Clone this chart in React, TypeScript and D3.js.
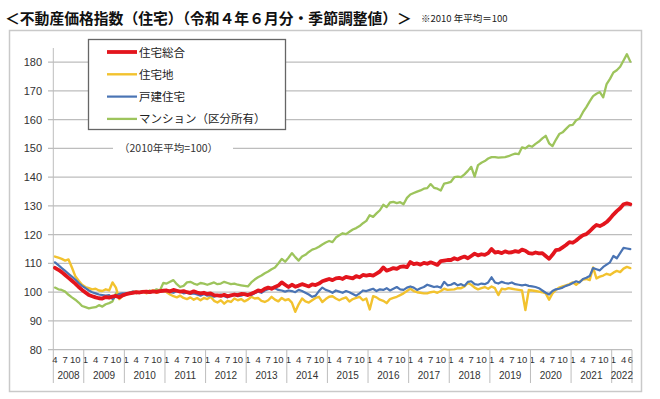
import React from 'react';
import * as d3 from 'd3';

// constants
const width = 660;
const height = 399;
const plot = { left: 53.3, right: 632, top: 48, bottom: 349.7 };

// categories: monthly, Apr 2008 .. Jun 2022
const months = d3.timeMonth.range(new Date(2008, 3, 1), new Date(2022, 6, 1));
const yTicks = [80, 90, 100, 110, 120, 130, 140, 150, 160, 170, 180];
const labelMonths = [1, 4, 7, 10];

// 住宅総合
const total = [
  108.5, 107.8, 107.0, 106.0, 105.0, 104.0, 103.0, 101.8, 100.8,
  99.9, 99.0, 98.6, 98.2, 97.9, 97.8, 98.3, 98.1, 98.5, 98.7, 98.2, 98.9,
  99.3, 99.6, 99.8, 100.0, 99.9, 100.1, 100.2, 100.0, 100.3, 100.1, 100.4, 100.5,
  100.6, 100.3, 100.8, 100.5, 100.2, 100.4, 100.0, 99.8, 100.3, 99.9, 99.6, 99.8,
  99.4, 99.6, 99.0, 98.9, 98.7, 99.1, 98.6, 98.9, 99.2, 99.0, 99.4, 99.3,
  99.0, 99.5, 100.0, 100.6, 100.4, 101.2, 101.6, 101.2, 101.8, 102.3, 103.4, 102.6,
  101.8, 102.6, 101.9, 102.3, 102.8, 102.4, 102.0, 102.7, 102.5, 103.0, 103.8, 104.2,
  104.6, 104.2, 104.8, 105.0, 104.6, 105.3, 105.1, 104.8, 105.6, 105.2, 106.0, 105.8,
  106.0, 105.8, 106.5, 107.2, 108.6, 107.5, 107.9, 108.4, 108.1, 108.8, 109.0, 108.7,
  110.5, 109.8, 110.0, 109.6, 110.2, 109.9, 110.4, 110.0, 109.5, 110.8, 111.0, 111.2,
  111.2, 111.8, 111.4, 112.0, 112.4, 111.8, 112.6, 113.4, 112.8, 113.2, 113.0, 113.6,
  115.0, 113.8, 114.0, 113.6, 114.2, 113.8, 113.9, 114.3, 114.0, 114.8, 114.4, 113.6,
  113.4, 113.8, 113.5, 113.6, 112.6, 111.6, 113.0, 114.6, 114.8, 115.6, 116.4, 117.4,
  117.2, 118.0, 119.0, 119.8, 120.2, 121.2, 122.4, 123.4, 123.0, 123.6, 124.4, 125.6,
  127.0, 128.2, 129.2, 130.6, 130.9, 130.6,
];

// 住宅地
const land = [
  112.4, 112.0, 111.6, 111.0, 111.4, 108.6, 105.6, 104.0, 102.6,
  101.8, 101.4, 101.0, 101.2, 100.6, 100.4, 101.0, 100.6, 103.4, 101.6, 97.6, 98.8,
  99.2, 99.6, 100.0, 100.2, 99.8, 100.4, 99.6, 100.2, 100.6, 99.8, 100.2, 100.6,
  100.0, 99.2, 98.6, 98.2, 98.8, 98.0, 97.6, 98.2, 97.4, 98.0, 97.2, 98.0,
  97.6, 98.4, 97.0, 96.4, 97.2, 96.0, 97.0, 96.6, 97.8, 97.2, 97.6, 96.8,
  97.4, 98.4, 97.8, 98.0, 97.0, 96.6, 97.2, 98.4, 97.4, 96.8, 98.0, 97.2,
  97.6, 96.4, 93.2, 95.8, 97.8, 96.8, 96.4, 97.2, 98.0, 98.4, 96.6, 97.6,
  98.4, 98.6, 97.8, 97.2, 97.8, 98.2, 96.8, 97.6, 98.0, 98.4, 97.2, 97.8,
  94.0, 98.6, 98.2, 97.4, 97.0, 96.2, 97.6, 98.0, 98.4, 99.0, 99.6, 100.4,
  101.2, 100.4, 100.0, 99.8, 99.6, 99.6, 100.0, 100.2, 99.8, 100.4, 101.2, 100.8,
  100.9, 101.0, 101.4, 101.4, 102.0, 103.2, 102.6, 101.6, 101.0, 101.4, 101.8, 101.2,
  102.0, 101.4, 99.0, 101.2, 101.0, 101.4, 101.2, 101.0, 100.8, 100.6, 93.8, 100.8,
  100.6, 100.4, 100.2, 100.0, 99.6, 97.4, 99.6, 100.8, 101.6, 102.0, 102.4, 102.8,
  103.4, 102.6, 103.6, 104.4, 104.6, 104.2, 108.6, 104.8, 105.4, 105.8, 106.4, 106.0,
  106.8, 107.4, 107.0, 108.2, 108.8, 108.4,
];

// 戸建住宅
const house = [
  110.4, 109.4, 108.4, 107.4, 106.4, 105.4, 104.4, 103.2, 102.2,
  101.4, 100.6, 100.0, 99.6, 99.2, 99.0, 98.8, 99.0, 97.6, 98.6, 99.4, 99.6,
  99.6, 99.8, 100.2, 100.0, 99.8, 100.4, 100.0, 99.8, 100.2, 100.4, 100.2, 100.6,
  100.4, 100.0, 99.8, 100.4, 100.2, 99.6, 99.8, 99.4, 99.6, 99.2, 98.8, 99.4,
  98.8, 99.0, 98.4, 98.8, 99.2, 98.6, 98.2, 98.8, 99.0, 98.6, 98.8, 99.2,
  99.2, 99.0, 99.6, 100.2, 99.8, 100.6, 101.0, 101.6, 101.4, 100.8, 100.6, 100.2,
  100.6, 100.4, 100.0, 100.8, 100.4, 99.8, 99.2, 98.4, 98.8, 100.4, 101.6, 100.8,
  100.4, 99.8, 100.6, 100.2, 99.8, 100.4, 100.0, 99.4, 98.8, 99.6, 100.6, 100.4,
  100.8, 101.2, 100.4, 101.0, 100.8, 101.4, 100.6, 101.2, 101.8, 101.0, 100.8, 101.6,
  102.0, 101.6, 100.8, 101.4, 101.8, 102.6, 102.2, 101.8, 102.0, 101.6, 103.6, 102.4,
  102.6, 103.2, 102.4, 102.8, 102.2, 103.6, 103.8, 102.8, 102.6, 103.0, 102.8, 103.4,
  105.2, 103.4, 103.0, 103.6, 103.2, 103.0, 103.4, 102.8, 102.6, 102.4, 102.6, 102.2,
  102.0, 101.8, 101.4, 100.6, 99.8, 99.2, 100.4, 101.0, 101.2, 101.6, 102.2, 102.6,
  103.2, 103.8, 103.4, 104.6, 105.0, 105.6, 108.4, 108.0, 107.6, 108.8, 109.6, 110.4,
  112.6, 111.8, 113.6, 115.4, 115.2, 115.0,
];

// マンション（区分所有）
const condo = [
  101.6, 101.0, 100.8, 100.2, 99.1, 98.2, 97.4, 96.4, 95.2,
  94.8, 94.4, 94.6, 94.8, 95.5, 95.0, 95.8, 96.2, 96.8, 99.6, 98.4, 99.2,
  99.4, 99.8, 100.2, 99.6, 100.0, 100.4, 99.8, 100.6, 100.2, 101.0, 100.6, 103.2,
  103.0, 103.6, 104.2, 102.8, 101.8, 102.2, 103.4, 103.6, 103.0, 102.6, 103.2, 103.0,
  102.6, 103.0, 103.4, 102.8, 103.0, 103.6, 103.2, 102.8, 103.0, 102.6, 102.4, 102.2,
  102.0, 103.4, 104.4, 105.2, 105.8, 106.6, 107.2, 108.0, 108.6, 110.0, 111.6, 110.6,
  112.0, 113.6, 112.2, 111.0, 112.4, 113.0, 114.0, 114.8, 115.2, 115.8, 116.6, 117.3,
  117.8, 117.4, 119.0, 119.8, 120.5, 120.2, 121.0, 121.8, 122.3, 123.0, 124.0, 124.8,
  126.8, 126.2, 127.4, 128.5, 130.4, 129.6, 131.2, 131.4, 131.0, 131.3, 130.6, 132.8,
  134.0, 134.5, 135.0, 135.4, 136.0, 136.2, 137.6, 136.3, 136.0, 135.4, 137.8, 138.0,
  138.4, 140.0, 140.2, 140.0, 141.0, 142.2, 143.6, 140.2, 144.2, 145.0, 145.6, 146.5,
  147.0, 147.0, 146.8, 146.9, 147.0, 147.3, 147.8, 148.2, 148.0, 150.4, 150.0, 151.0,
  150.6, 151.6, 152.4, 153.5, 154.4, 151.8, 150.8, 153.0, 155.0, 155.6, 156.8, 158.0,
  158.2, 159.8, 160.4, 162.6, 164.4, 166.4, 168.2, 169.0, 169.6, 167.8, 172.4, 174.2,
  176.4, 177.2, 178.4, 180.6, 182.8, 180.2,
];

const series = [
  { name: 'マンション（区分所有）', values: condo, color: '#9dc45c', width: 2.3 },
  { name: '住宅地', values: land, color: '#f2c22e', width: 2.4 },
  { name: '戸建住宅', values: house, color: '#4a74b4', width: 2.2 },
  { name: '住宅総合', values: total, color: '#e3151d', width: 3.8 },
];
const legendOrder = ['住宅総合', '住宅地', '戸建住宅', 'マンション（区分所有）'];

const jp = '"Noto Sans CJK JP", "Noto Sans", sans-serif';
const narrow = '"Liberation Sans Narrow", "Arial Narrow", "Liberation Sans", sans-serif';

const App = () => {
  // scales
  const xScale = d3.scaleBand<number>()
    .domain(months.map((d, i) => i))
    .range([plot.left, plot.right])
    .padding(0);
  const yScale = d3.scaleLinear().domain([80, 180]).range([plot.bottom, 62.2]);
  const cx = (i: number) => (xScale(i) as number) + xScale.bandwidth() / 2;

  const line = d3.line<number>()
    .x((d, i) => cx(i))
    .y(d => yScale(d));

  // year groups for the two-level category axis
  const yearGroups = d3.groups(months.map((d, i) => ({ d, i })), e => e.d.getFullYear())
    .map(([year, arr]) => ({ year, first: arr[0].i, last: arr[arr.length - 1].i }));

  const lastIndex = months.length - 1;

  return (
    <svg width={width} height={height} style={{ position: 'absolute', left: 0, top: 0, background: '#fff' }}>
      {/* title */}
      <text x={5} y={24} fontFamily={jp} fontWeight="bold" fontSize={14.8} fill="#111">
        ＜不動産価格指数（住宅）（令和４年６月分・季節調整値）＞
      </text>
      <text x={421} y={22} fontFamily={jp} fontSize={9.5} fill="#222">※2010 年平均＝100</text>

      {/* frame */}
      <rect x={9.5} y={30.5} width={632} height={361} fill="#fff" stroke="#c9c9c9" strokeWidth={1.5} />

      {/* gridlines + y labels */}
      {yTicks.map(t => (
        <g key={t}>
          <line x1={48} x2={plot.right} y1={yScale(t)} y2={yScale(t)} stroke="#bdbdbd" strokeWidth={1.3} />
          <text x={42} y={yScale(t) + 4} textAnchor="end" fontFamily='"Liberation Sans", Arial, sans-serif' fontSize={11} fill="#333">{t}</text>
        </g>
      ))}

      {/* note over 150 gridline */}
      <rect x={113} y={140} width={120} height={16} fill="#fff" />
      <text x={119} y={152} fontFamily={jp} fontSize={10.5} fill="#333">（2010年平均=100）</text>

      {/* y axis line */}
      <line x1={plot.left} x2={plot.left} y1={plot.top} y2={383} stroke="#bdbdbd" strokeWidth={1} />

      {/* month labels */}
      {months.map((d, i) => {
        const m = d.getMonth() + 1;
        if (!labelMonths.includes(m) && i !== lastIndex) return null;
        return (
          <text key={i} x={cx(i)} y={363} textAnchor="middle" fontFamily={narrow} fontSize={9.5} fill="#333">{m}</text>
        );
      })}

      {/* year separators + labels */}
      {yearGroups.map(g => (
        <g key={g.year}>
          <line x1={(xScale(g.last) as number) + xScale.bandwidth()} x2={(xScale(g.last) as number) + xScale.bandwidth()}
            y1={plot.bottom} y2={383} stroke="#bdbdbd" strokeWidth={1} />
          <text x={((xScale(g.first) as number) + (xScale(g.last) as number) + xScale.bandwidth()) / 2} y={379}
            textAnchor="middle" fontFamily={narrow} fontSize={10} fill="#333">{g.year}</text>
        </g>
      ))}

      {/* series lines */}
      {series.map(s => (
        <path key={s.name} d={line(s.values) || ''} fill="none" stroke={s.color} strokeWidth={s.width}
          strokeLinejoin="round" strokeLinecap="round" />
      ))}

      {/* legend */}
      <rect x={88.5} y={39.5} width={197} height={90} fill="#fff" stroke="#666" strokeWidth={1.3} />
      {legendOrder.map((name, k) => {
        const s = series.find(e => e.name === name)!;
        const y = 52 + k * 22.3;
        return (
          <g key={name}>
            <line x1={107} x2={137} y1={y} y2={y} stroke={s.color} strokeWidth={s.width} />
            <text x={139} y={y + 4.5} fontFamily={jp} fontSize={11.5} fill="#222">{name}</text>
          </g>
        );
      })}
    </svg>
  );
};

export default App;
